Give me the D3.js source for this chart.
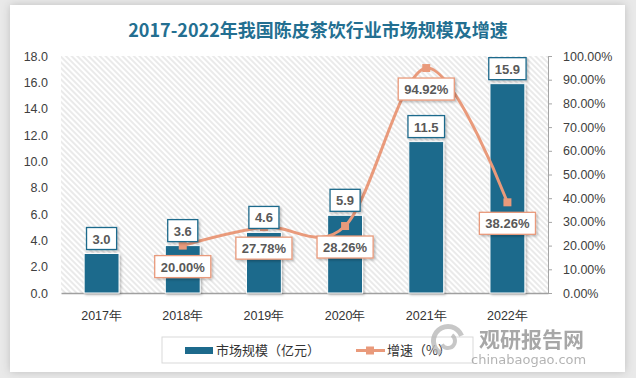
<!DOCTYPE html>
<html>
<head>
<meta charset="utf-8">
<style>
    body { margin: 0; background: #e9e9e9; }
    svg { display: block; font-family: "Noto Sans CJK SC", "Liberation Sans", sans-serif; }
    .yl .domain { display: none; }
    .yl .tick text, .yr .tick text { font-size: 12.5px; fill: #404040; font-family: "Liberation Sans", "Noto Sans CJK SC", sans-serif; }
    .yr .domain, .yr .tick line { stroke: #a6a6a6; }
    .xa .tick text { font-size: 12.5px; fill: #333; }
</style>
</head>
<body>
<svg width="636" height="378"></svg>
<script src="https://d3js.org/d3.v7.min.js"></script>
<script>
    // data
    const years = ["2017年", "2018年", "2019年", "2020年", "2021年", "2022年"]
    const marketSize = [3.0, 3.6, 4.6, 5.9, 11.5, 15.9]
    const growth = [null, 0.2000, 0.2778, 0.2826, 0.9492, 0.3826]
    const leftTicks = [0, 2, 4, 6, 8, 10, 12, 14, 16, 18]
    const rightTicks = [0, 0.1, 0.2, 0.3, 0.4, 0.5, 0.6, 0.7, 0.8, 0.9, 1.0]

    const barColor = "#1d6a8c"
    const lineColor = "#e99a7b"

    let svg = d3.select("svg")
    let defs = svg.append("defs")

    let shadow = defs.append("filter").attr("id", "card").attr("x", "-5%").attr("y", "-5%").attr("width", "110%").attr("height", "110%")
    shadow.append("feDropShadow").attr("dx", 0).attr("dy", 0).attr("stdDeviation", 4).attr("flood-color", "#000").attr("flood-opacity", 0.18)

    let small = defs.append("filter").attr("id", "sh").attr("x", "-20%").attr("y", "-20%").attr("width", "150%").attr("height", "150%")
    small.append("feDropShadow").attr("dx", 1.5).attr("dy", 1.5).attr("stdDeviation", 1.2).attr("flood-color", "#000").attr("flood-opacity", 0.25)

    let hatch = defs.append("pattern").attr("id", "hatch")
        .attr("patternUnits", "userSpaceOnUse").attr("width", 4).attr("height", 4)
        .attr("patternTransform", "rotate(45)")
    hatch.append("rect").attr("width", 4).attr("height", 4).attr("fill", "#fff")
    hatch.append("line").attr("x1", 0).attr("x2", 4).attr("y1", 1).attr("y2", 1)
        .attr("stroke", "#dadada").attr("stroke-width", 1.1)

    // white card
    svg.append("rect").attr("x", 10).attr("y", 5).attr("width", 615).attr("height", 367)
        .attr("fill", "#fff").attr("filter", "url(#card)")

    svg.append("text").attr("x", 318).attr("y", 37).attr("text-anchor", "middle")
        .style("font-size", "18px").style("font-weight", "bold").style("fill", "#236f91")
        .style("font-family", "'Noto Sans CJK SC', serif")
        .text("2017-2022年我国陈皮茶饮行业市场规模及增速")

    let margin = { top: 56, right: 88, bottom: 85, left: 61 }
    let width = 636, height = 378
    let plotBottom = height - margin.bottom
    let plotRight = width - margin.right

    svg.append("rect").attr("x", margin.left).attr("y", margin.top)
        .attr("width", plotRight - margin.left).attr("height", plotBottom - margin.top)
        .attr("fill", "url(#hatch)")

    let x = d3.scaleBand().domain(years).range([margin.left, plotRight])
        .paddingInner(0.57).paddingOuter(0.285)
    let yL = d3.scaleLinear().domain([0, 18]).range([plotBottom, margin.top])
    let yR = d3.scaleLinear().domain([0, 1]).range([plotBottom, margin.top])

    svg.append("g").attr("class", "yl")
        .attr("transform", `translate(${margin.left},0)`)
        .call(d3.axisLeft(yL).tickValues(leftTicks).tickSize(0).tickPadding(13).tickFormat(d3.format(".1f")))

    svg.append("g").attr("class", "yr")
        .attr("transform", `translate(${plotRight},0)`)
        .call(d3.axisRight(yR).tickValues(rightTicks).tickSize(4).tickPadding(11).tickFormat(d3.format(".2%")))

    let xAxis = svg.append("g").attr("class", "xa")
        .attr("transform", `translate(0,${plotBottom})`)
        .call(d3.axisBottom(x).tickSize(0).tickPadding(18))
    xAxis.select(".domain").attr("stroke", "#a0a0a0").attr("stroke-width", 1.3)

    // bars
    svg.append("g").selectAll("rect")
        .data(marketSize)
        .join("rect")
        .attr("x", (d, i) => x(years[i]))
        .attr("y", d => yL(d))
        .attr("width", x.bandwidth())
        .attr("height", d => plotBottom - yL(d))
        .attr("fill", barColor)
        .attr("stroke", "#fff").attr("stroke-width", 1)
        .attr("filter", "url(#sh)")

    // growth line
    let pts = growth.map((g, i) => ({ g: g, i: i })).filter(d => d.g !== null)
    let cx = i => x(years[i]) + x.bandwidth() / 2
    let line = d3.line().x(d => cx(d.i)).y(d => yR(d.g)).curve(d3.curveCardinal.tension(0))

    svg.append("path").datum(pts).attr("d", line)
        .attr("fill", "none").attr("stroke", lineColor).attr("stroke-width", 3)
    svg.append("g").selectAll("rect").data(pts).join("rect")
        .attr("x", d => cx(d.i) - 4).attr("y", d => yR(d.g) - 4)
        .attr("width", 8).attr("height", 8).attr("fill", lineColor)

    // label boxes
    function labelBox(g, xc, ytop, txt, color) {
        let grp = g.append("g")
        let rect = grp.append("rect")
        let t = grp.append("text").attr("x", xc).attr("y", ytop + 16)
            .attr("text-anchor", "middle")
            .style("font-size", "13px").style("font-weight", "bold").style("fill", "#595959")
            .style("font-family", "'Liberation Sans', sans-serif")
            .text(txt)
        let w = t.node().getComputedTextLength() + 12
        rect.attr("x", xc - w / 2).attr("y", ytop).attr("width", w).attr("height", 22)
            .attr("fill", "#fff").attr("stroke", color).attr("stroke-width", 1.3)
            .attr("filter", "url(#sh)")
    }

    let labels = svg.append("g")
    marketSize.forEach((v, i) => {
        labelBox(labels, cx(i), yL(v) - 26, d3.format(".1f")(v), barColor)
    })
    pts.forEach(d => {
        labelBox(labels, cx(d.i), yR(d.g) + 10, d3.format(".2%")(d.g), lineColor)
    })

    // legend
    let lg = svg.append("g")
    lg.append("rect").attr("x", 162).attr("y", 337).attr("width", 311).attr("height", 26)
        .attr("fill", "#fff").attr("stroke", "#d9d9d9")
    lg.append("rect").attr("x", 185).attr("y", 347).attr("width", 28).attr("height", 7).attr("fill", barColor)
    lg.append("text").attr("x", 216).attr("y", 355).style("font-size", "13px").style("fill", "#333")
        .text("市场规模（亿元）")
    lg.append("line").attr("x1", 356).attr("x2", 385).attr("y1", 350.5).attr("y2", 350.5)
        .attr("stroke", lineColor).attr("stroke-width", 3)
    lg.append("rect").attr("x", 366).attr("y", 346.5).attr("width", 8).attr("height", 8).attr("fill", lineColor)
    lg.append("text").attr("x", 387).attr("y", 355).style("font-size", "13px").style("fill", "#333")
        .text("增速（%）")

    // watermark
    let wm = svg.append("g").attr("opacity", 0.75)
    wm.append("path").attr("d", d3.arc()({ innerRadius: 12, outerRadius: 17, startAngle: -2.6, endAngle: 1.2 }))
        .attr("transform", "translate(448,341)").attr("fill", "#b5b5b5")
    wm.append("path").attr("d", d3.arc()({ innerRadius: 5, outerRadius: 9, startAngle: 0.6, endAngle: 4.2 }))
        .attr("transform", "translate(448,341)").attr("fill", "#b5b5b5")
    wm.append("text").attr("x", 479).attr("y", 347).style("font-size", "21px").style("font-weight", "bold")
        .style("fill", "#8a8a8a").text("观研报告网")
    wm.append("text").attr("x", 471).attr("y", 364).style("font-size", "13px")
        .style("fill", "#9a9a9a").style("font-family", "'DejaVu Sans', sans-serif").text("chinabaogao.com")
</script>
</body>
</html>
